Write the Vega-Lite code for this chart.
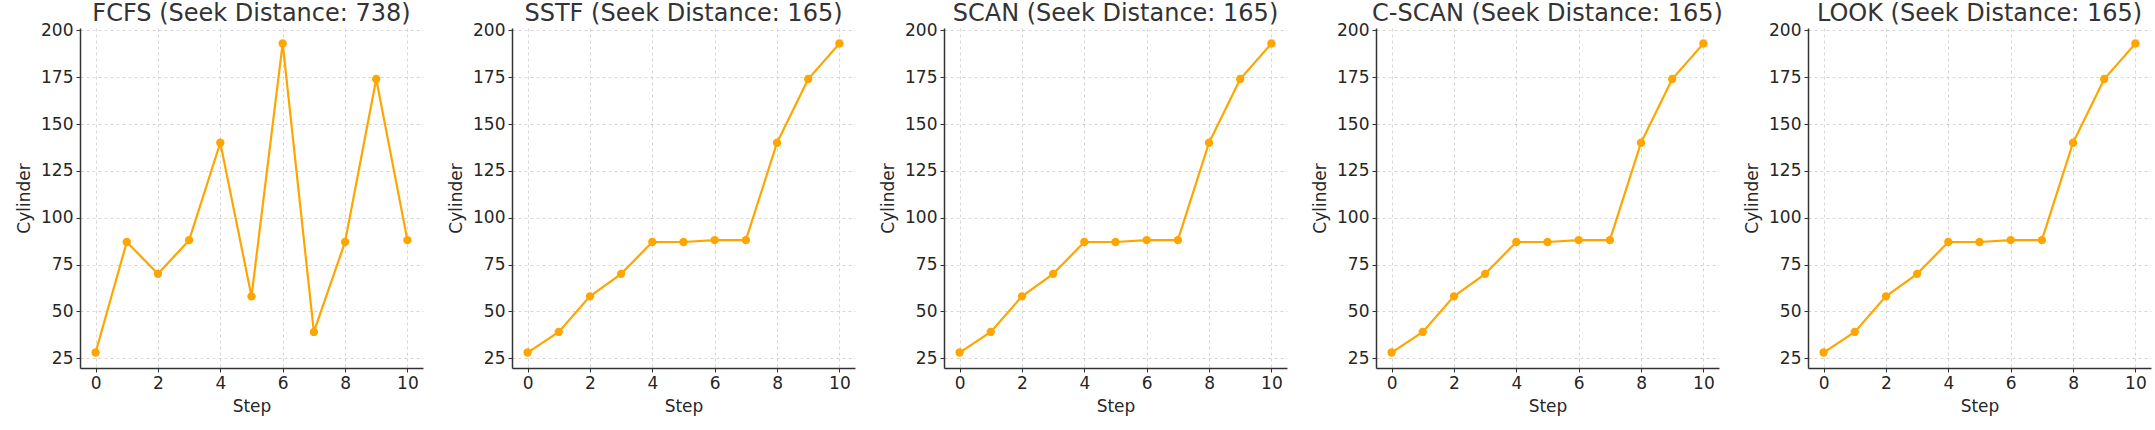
{
  "$schema": "https://vega.github.io/schema/vega-lite/v6.json",
  "background": "white",
  "padding": {"left": 15, "top": 2, "right": 5, "bottom": 5},
  "config": {
    "font": "DejaVu Sans",
    "view": {"stroke": null},
    "axis": {
      "domainColor": "#333333",
      "domainWidth": 1.5,
      "tickColor": "#333333",
      "tickSize": 4,
      "gridColor": "#cccccc",
      "gridDash": [3, 3],
      "gridWidth": 0.8,
      "labelFontSize": 17,
      "labelColor": "#262626",
      "titleFontSize": 17,
      "titleFontWeight": "normal",
      "titleColor": "#262626",
      "labelPadding": 3,
      "titlePadding": 7
    },
    "header": {
      "labelFontSize": 24,
      "labelColor": "#333333",
      "labelFont": "DejaVu Sans",
      "labelPadding": -5
    }
  },
  "data": {
    "values": [
      {"algo": "FCFS (Seek Distance: 738)", "step": 0, "cylinder": 28},
      {"algo": "FCFS (Seek Distance: 738)", "step": 1, "cylinder": 87},
      {"algo": "FCFS (Seek Distance: 738)", "step": 2, "cylinder": 70},
      {"algo": "FCFS (Seek Distance: 738)", "step": 3, "cylinder": 88},
      {"algo": "FCFS (Seek Distance: 738)", "step": 4, "cylinder": 140},
      {"algo": "FCFS (Seek Distance: 738)", "step": 5, "cylinder": 58},
      {"algo": "FCFS (Seek Distance: 738)", "step": 6, "cylinder": 193},
      {"algo": "FCFS (Seek Distance: 738)", "step": 7, "cylinder": 39},
      {"algo": "FCFS (Seek Distance: 738)", "step": 8, "cylinder": 87},
      {"algo": "FCFS (Seek Distance: 738)", "step": 9, "cylinder": 174},
      {"algo": "FCFS (Seek Distance: 738)", "step": 10, "cylinder": 88},
      {"algo": "SSTF (Seek Distance: 165)", "step": 0, "cylinder": 28},
      {"algo": "SSTF (Seek Distance: 165)", "step": 1, "cylinder": 39},
      {"algo": "SSTF (Seek Distance: 165)", "step": 2, "cylinder": 58},
      {"algo": "SSTF (Seek Distance: 165)", "step": 3, "cylinder": 70},
      {"algo": "SSTF (Seek Distance: 165)", "step": 4, "cylinder": 87},
      {"algo": "SSTF (Seek Distance: 165)", "step": 5, "cylinder": 87},
      {"algo": "SSTF (Seek Distance: 165)", "step": 6, "cylinder": 88},
      {"algo": "SSTF (Seek Distance: 165)", "step": 7, "cylinder": 88},
      {"algo": "SSTF (Seek Distance: 165)", "step": 8, "cylinder": 140},
      {"algo": "SSTF (Seek Distance: 165)", "step": 9, "cylinder": 174},
      {"algo": "SSTF (Seek Distance: 165)", "step": 10, "cylinder": 193},
      {"algo": "SCAN (Seek Distance: 165)", "step": 0, "cylinder": 28},
      {"algo": "SCAN (Seek Distance: 165)", "step": 1, "cylinder": 39},
      {"algo": "SCAN (Seek Distance: 165)", "step": 2, "cylinder": 58},
      {"algo": "SCAN (Seek Distance: 165)", "step": 3, "cylinder": 70},
      {"algo": "SCAN (Seek Distance: 165)", "step": 4, "cylinder": 87},
      {"algo": "SCAN (Seek Distance: 165)", "step": 5, "cylinder": 87},
      {"algo": "SCAN (Seek Distance: 165)", "step": 6, "cylinder": 88},
      {"algo": "SCAN (Seek Distance: 165)", "step": 7, "cylinder": 88},
      {"algo": "SCAN (Seek Distance: 165)", "step": 8, "cylinder": 140},
      {"algo": "SCAN (Seek Distance: 165)", "step": 9, "cylinder": 174},
      {"algo": "SCAN (Seek Distance: 165)", "step": 10, "cylinder": 193},
      {"algo": "C-SCAN (Seek Distance: 165)", "step": 0, "cylinder": 28},
      {"algo": "C-SCAN (Seek Distance: 165)", "step": 1, "cylinder": 39},
      {"algo": "C-SCAN (Seek Distance: 165)", "step": 2, "cylinder": 58},
      {"algo": "C-SCAN (Seek Distance: 165)", "step": 3, "cylinder": 70},
      {"algo": "C-SCAN (Seek Distance: 165)", "step": 4, "cylinder": 87},
      {"algo": "C-SCAN (Seek Distance: 165)", "step": 5, "cylinder": 87},
      {"algo": "C-SCAN (Seek Distance: 165)", "step": 6, "cylinder": 88},
      {"algo": "C-SCAN (Seek Distance: 165)", "step": 7, "cylinder": 88},
      {"algo": "C-SCAN (Seek Distance: 165)", "step": 8, "cylinder": 140},
      {"algo": "C-SCAN (Seek Distance: 165)", "step": 9, "cylinder": 174},
      {"algo": "C-SCAN (Seek Distance: 165)", "step": 10, "cylinder": 193},
      {"algo": "LOOK (Seek Distance: 165)", "step": 0, "cylinder": 28},
      {"algo": "LOOK (Seek Distance: 165)", "step": 1, "cylinder": 39},
      {"algo": "LOOK (Seek Distance: 165)", "step": 2, "cylinder": 58},
      {"algo": "LOOK (Seek Distance: 165)", "step": 3, "cylinder": 70},
      {"algo": "LOOK (Seek Distance: 165)", "step": 4, "cylinder": 87},
      {"algo": "LOOK (Seek Distance: 165)", "step": 5, "cylinder": 87},
      {"algo": "LOOK (Seek Distance: 165)", "step": 6, "cylinder": 88},
      {"algo": "LOOK (Seek Distance: 165)", "step": 7, "cylinder": 88},
      {"algo": "LOOK (Seek Distance: 165)", "step": 8, "cylinder": 140},
      {"algo": "LOOK (Seek Distance: 165)", "step": 9, "cylinder": 174},
      {"algo": "LOOK (Seek Distance: 165)", "step": 10, "cylinder": 193}
    ]
  },
  "facet": {
    "column": {
      "field": "algo",
      "type": "nominal",
      "sort": ["FCFS (Seek Distance: 738)", "SSTF (Seek Distance: 165)", "SCAN (Seek Distance: 165)", "C-SCAN (Seek Distance: 165)", "LOOK (Seek Distance: 165)"],
      "header": {"title": null}
    }
  },
  "spacing": 24,
  "resolve": {"axis": {"x": "independent", "y": "independent"}},
  "spec": {
    "width": 343,
    "height": 340,
    "encoding": {
      "x": {
        "field": "step",
        "type": "quantitative",
        "scale": {"domain": [-0.5, 10.5], "nice": false, "zero": false},
        "axis": {"title": "Step", "values": [0, 2, 4, 6, 8, 10], "labelAngle": 0}
      },
      "y": {
        "field": "cylinder",
        "type": "quantitative",
        "scale": {"domain": [19.75, 201.25], "nice": false, "zero": false},
        "axis": {"title": "Cylinder", "values": [25, 50, 75, 100, 125, 150, 175, 200]}
      }
    },
    "layer": [
      {"mark": {"type": "line", "color": "#FFA500", "strokeWidth": 2.2}},
      {"mark": {"type": "point", "filled": true, "color": "#FFA500", "size": 70, "opacity": 1}}
    ]
  }
}
